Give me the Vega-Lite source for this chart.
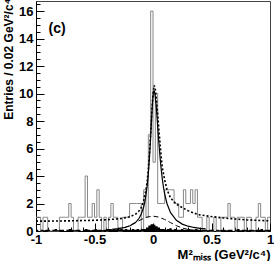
{
 "$schema": "https://vega.github.io/schema/vega-lite/v6.json",
 "width": 234, "height": 230,
 "autosize": {"type": "none"},
 "padding": {"left": 36, "top": 1, "right": 4, "bottom": 30},
 "background": "white",
 "config": {
  "view": {"stroke": "#444", "strokeWidth": 1},
  "font": "Liberation Sans",
  "axis": {"grid": false, "domainColor": "black", "tickColor": "black", "labelColor": "black", "titleColor": "black",
           "labelFont": "Liberation Sans", "titleFont": "Liberation Sans", "labelFontWeight": "bold", "titleFontWeight": "bold"}
 },
 "datasets": {
  "h": [
   {"x":-1.00,"n":1,"b":0.1},{"x":-0.98,"n":1,"b":0},{"x":-0.96,"n":0,"b":0.1},{"x":-0.94,"n":1,"b":0.05},{"x":-0.92,"n":1,"b":0.1},
   {"x":-0.90,"n":0,"b":0.1},{"x":-0.88,"n":0,"b":0},{"x":-0.86,"n":0,"b":0.1},{"x":-0.84,"n":0,"b":0.15},{"x":-0.82,"n":0,"b":0.05},
   {"x":-0.80,"n":1,"b":0.1},{"x":-0.78,"n":1,"b":0.1},{"x":-0.76,"n":1,"b":0},{"x":-0.74,"n":1,"b":0.1},{"x":-0.72,"n":2,"b":0.15},
   {"x":-0.70,"n":1,"b":0.1},{"x":-0.68,"n":0,"b":0.05},{"x":-0.66,"n":0,"b":0.1},{"x":-0.64,"n":1,"b":0.1},{"x":-0.62,"n":1,"b":0},
   {"x":-0.60,"n":1,"b":0.1},{"x":-0.58,"n":4,"b":0.15},{"x":-0.56,"n":1,"b":0.1},{"x":-0.54,"n":1,"b":0.05},{"x":-0.52,"n":2,"b":0.1},
   {"x":-0.50,"n":1,"b":0.15},{"x":-0.48,"n":3,"b":0.1},{"x":-0.46,"n":1,"b":0.1},{"x":-0.44,"n":0,"b":0.05},{"x":-0.42,"n":1,"b":0.1},
   {"x":-0.40,"n":0,"b":0.15},{"x":-0.38,"n":1,"b":0.1},{"x":-0.36,"n":2,"b":0.1},{"x":-0.34,"n":1,"b":0.15},{"x":-0.32,"n":1,"b":0.1},
   {"x":-0.30,"n":0,"b":0.1},{"x":-0.28,"n":0,"b":0.15},{"x":-0.26,"n":1,"b":0.1},{"x":-0.24,"n":1,"b":0.15},{"x":-0.22,"n":1,"b":0.1},
   {"x":-0.20,"n":2,"b":0.1},{"x":-0.18,"n":2,"b":0.15},{"x":-0.16,"n":2,"b":0.1},{"x":-0.14,"n":2,"b":0.15},{"x":-0.12,"n":2,"b":0.1},
   {"x":-0.10,"n":0,"b":0.15},{"x":-0.08,"n":3,"b":0.15},{"x":-0.06,"n":1,"b":0.25},{"x":-0.04,"n":7,"b":0.4},{"x":-0.02,"n":16,"b":0.5},
   {"x":0.00,"n":5,"b":0.45},{"x":0.02,"n":10,"b":0.35},{"x":0.04,"n":2,"b":0.25},{"x":0.06,"n":2,"b":0.15},{"x":0.08,"n":2,"b":0.15},
   {"x":0.10,"n":3,"b":0.1},{"x":0.12,"n":3,"b":0.15},{"x":0.14,"n":3,"b":0.2},{"x":0.16,"n":3,"b":0.1},{"x":0.18,"n":2,"b":0.15},
   {"x":0.20,"n":2,"b":0.1},{"x":0.22,"n":1,"b":0.1},{"x":0.24,"n":1,"b":0.15},{"x":0.26,"n":3,"b":0.1},{"x":0.28,"n":2,"b":0.1},
   {"x":0.30,"n":2,"b":0.15},{"x":0.32,"n":3,"b":0.1},{"x":0.34,"n":2,"b":0.1},{"x":0.36,"n":3,"b":0.15},{"x":0.38,"n":1,"b":0.1},
   {"x":0.40,"n":1,"b":0.05},{"x":0.42,"n":0,"b":0.1},{"x":0.44,"n":0,"b":0.1},{"x":0.46,"n":1,"b":0.05},{"x":0.48,"n":0,"b":0.1},
   {"x":0.50,"n":0,"b":0.1},{"x":0.52,"n":1,"b":0},{"x":0.54,"n":0,"b":0.1},{"x":0.56,"n":0,"b":0.05},{"x":0.58,"n":1,"b":0.1},
   {"x":0.60,"n":1,"b":0.1},{"x":0.62,"n":1,"b":0.05},{"x":0.64,"n":2,"b":0.1},{"x":0.66,"n":1,"b":0.1},{"x":0.68,"n":1,"b":0},
   {"x":0.70,"n":0,"b":0.1},{"x":0.72,"n":1,"b":0.15},{"x":0.74,"n":1,"b":0.05},{"x":0.76,"n":1,"b":0.1},{"x":0.78,"n":0,"b":0.1},
   {"x":0.80,"n":1,"b":0.05},{"x":0.82,"n":1,"b":0.1},{"x":0.84,"n":0,"b":0.1},{"x":0.86,"n":0,"b":0.05},{"x":0.88,"n":1,"b":0.1},
   {"x":0.90,"n":2,"b":0.1},{"x":0.92,"n":1,"b":0.15},{"x":0.94,"n":1,"b":0.05},{"x":0.96,"n":0,"b":0.1},{"x":0.98,"n":1,"b":0.1},
   {"x":1.00,"n":1,"b":0.1}
  ],
  "sig": [
   {"x":-0.4,"y":0.097},{"x":-0.35,"y":0.126},{"x":-0.3,"y":0.169},{"x":-0.25,"y":0.239},{"x":-0.2,"y":0.364},
   {"x":-0.15,"y":0.614},{"x":-0.12,"y":0.907},{"x":-0.1,"y":1.23},{"x":-0.08,"y":1.747},{"x":-0.07,"y":2.124},
   {"x":-0.06,"y":2.622},{"x":-0.05,"y":3.288},{"x":-0.045,"y":3.701},{"x":-0.04,"y":4.18},{"x":-0.035,"y":4.731},
   {"x":-0.03,"y":5.361},{"x":-0.025,"y":6.069},{"x":-0.02,"y":6.846},{"x":-0.015,"y":7.666},{"x":-0.01,"y":8.482},
   {"x":-0.005,"y":9.226},{"x":0,"y":9.808},{"x":0.004,"y":10.1},{"x":0.008,"y":10.2},{"x":0.012,"y":10.146},
   {"x":0.02,"y":9.737},{"x":0.025,"y":9.311},{"x":0.03,"y":8.793},{"x":0.04,"y":7.621},{"x":0.05,"y":6.443},
   {"x":0.06,"y":5.385},{"x":0.07,"y":4.491},{"x":0.08,"y":3.758},{"x":0.09,"y":3.165},{"x":0.1,"y":2.686},
   {"x":0.12,"y":1.982},{"x":0.15,"y":1.331},{"x":0.2,"y":0.773},{"x":0.25,"y":0.501},{"x":0.3,"y":0.349},
   {"x":0.35,"y":0.257},{"x":0.4,"y":0.197},{"x":0.45,"y":0.155}
  ],
  "tot": [
   {"x":-1,"y":0.72},{"x":-0.9,"y":0.72},{"x":-0.8,"y":0.73},{"x":-0.7,"y":0.74},{"x":-0.6,"y":0.76},
   {"x":-0.5,"y":0.78},{"x":-0.4,"y":0.82},{"x":-0.3,"y":0.88},{"x":-0.25,"y":0.94},{"x":-0.2,"y":1.03},
   {"x":-0.15,"y":1.22},{"x":-0.12,"y":1.45},{"x":-0.1,"y":1.72},{"x":-0.08,"y":2.2},{"x":-0.06,"y":3.0},
   {"x":-0.05,"y":3.6},{"x":-0.04,"y":4.5},{"x":-0.03,"y":5.7},{"x":-0.02,"y":7.1},{"x":-0.01,"y":8.7},
   {"x":0,"y":10.0},{"x":0.01,"y":10.6},{"x":0.02,"y":10.3},{"x":0.03,"y":9.5},{"x":0.04,"y":8.5},
   {"x":0.05,"y":7.4},{"x":0.06,"y":6.4},{"x":0.07,"y":5.4},{"x":0.08,"y":4.6},{"x":0.1,"y":3.7},
   {"x":0.12,"y":3.0},{"x":0.15,"y":2.4},{"x":0.2,"y":1.95},{"x":0.25,"y":1.7},{"x":0.3,"y":1.48},
   {"x":0.35,"y":1.3},{"x":0.4,"y":1.17},{"x":0.5,"y":1.05},{"x":0.6,"y":0.95},{"x":0.7,"y":0.87},
   {"x":0.8,"y":0.81},{"x":0.9,"y":0.77},{"x":1,"y":0.74}
  ],
  "bg": [
   {"x":-0.45,"y":0.006},{"x":-0.4,"y":0.018},{"x":-0.35,"y":0.047},{"x":-0.3,"y":0.109},{"x":-0.25,"y":0.219},
   {"x":-0.2,"y":0.389},{"x":-0.15,"y":0.608},{"x":-0.1,"y":0.837},{"x":-0.05,"y":1.013},{"x":0,"y":1.08},
   {"x":0.05,"y":1.013},{"x":0.1,"y":0.837},{"x":0.15,"y":0.608},{"x":0.2,"y":0.389},{"x":0.25,"y":0.219},
   {"x":0.3,"y":0.109},{"x":0.35,"y":0.047},{"x":0.4,"y":0.018},{"x":0.45,"y":0.006}
  ],
  "lab": [{"x":-0.82,"y":14.7,"t":"(c)"}]
 },
 "layer": [
  {
   "data": {"name": "h"},
   "mark": {"type": "line", "interpolate": "step-after", "color": "#888", "strokeWidth": 1},
   "encoding": {
    "x": {"field": "x", "type": "quantitative", "scale": {"domain": [-1, 1], "nice": false, "zero": false},
          "axis": {"orient": "bottom", "values": [-1, -0.5, 0, 0.5, 1], "labelExpr": "replace(format(datum.value,'~g'),'\u2212','-')",
                   "tickSize": -8, "labelPadding": 10, "labelFontSize": 13, "labelFlush": false,
                   "title": "M²ₘᵢₛₛ (GeV²/c⁴)", "titleAnchor": "end", "titleFontSize": 13, "titlePadding": 2}},
    "y": {"field": "n", "type": "quantitative", "scale": {"domain": [0, 16.73], "nice": false},
          "axis": {"orient": "left", "values": [0, 2, 4, 6, 8, 10, 12, 14, 16], "tickSize": -8, "labelPadding": 11, "labelFontSize": 13,
                   "title": "Entries / 0.02 GeV²/c⁴", "titleFontSize": 12, "titleAngle": 270, "titleAlign": "right", "titleBaseline": "middle",
                   "titleX": -28, "titleY": -3}}
   }
  },
  {
   "data": {"name": "h"},
   "mark": {"type": "area", "interpolate": "step-after", "color": "black"},
   "encoding": {
    "x": {"field": "x", "type": "quantitative",
          "axis": {"orient": "bottom", "values": [-0.9,-0.8,-0.7,-0.6,-0.4,-0.3,-0.2,-0.1,0.1,0.2,0.3,0.4,0.6,0.7,0.8,0.9],
                   "tickSize": -4, "labels": false, "domain": false, "title": null}},
    "y": {"field": "b", "type": "quantitative",
          "axis": {"orient": "left", "values": [0.5,1,1.5,2.5,3,3.5,4.5,5,5.5,6.5,7,7.5,8.5,9,9.5,10.5,11,11.5,12.5,13,13.5,14.5,15,15.5,16.5],
                   "tickSize": -4, "labels": false, "domain": false, "title": null}}
   }
  },
  {
   "data": {"name": "bg"},
   "mark": {"type": "line", "color": "black", "strokeWidth": 1, "strokeDash": [5, 3]},
   "encoding": {"x": {"field": "x", "type": "quantitative", "axis": null}, "y": {"field": "y", "type": "quantitative", "axis": null}}
  },
  {
   "data": {"name": "sig"},
   "mark": {"type": "line", "color": "black", "strokeWidth": 1.2},
   "encoding": {"x": {"field": "x", "type": "quantitative", "axis": null}, "y": {"field": "y", "type": "quantitative", "axis": null}}
  },
  {
   "data": {"name": "tot"},
   "mark": {"type": "line", "color": "black", "strokeWidth": 1.6, "strokeDash": [2, 2]},
   "encoding": {"x": {"field": "x", "type": "quantitative", "axis": null}, "y": {"field": "y", "type": "quantitative", "axis": null}}
  },
  {
   "data": {"name": "lab"},
   "mark": {"type": "text", "font": "Liberation Sans", "fontWeight": "bold", "fontSize": 14, "align": "center", "baseline": "middle"},
   "encoding": {"x": {"field": "x", "type": "quantitative", "axis": null}, "y": {"field": "y", "type": "quantitative", "axis": null}, "text": {"field": "t"}}
  }
 ],
 "resolve": {"axis": {"x": "independent", "y": "independent"}}
}
